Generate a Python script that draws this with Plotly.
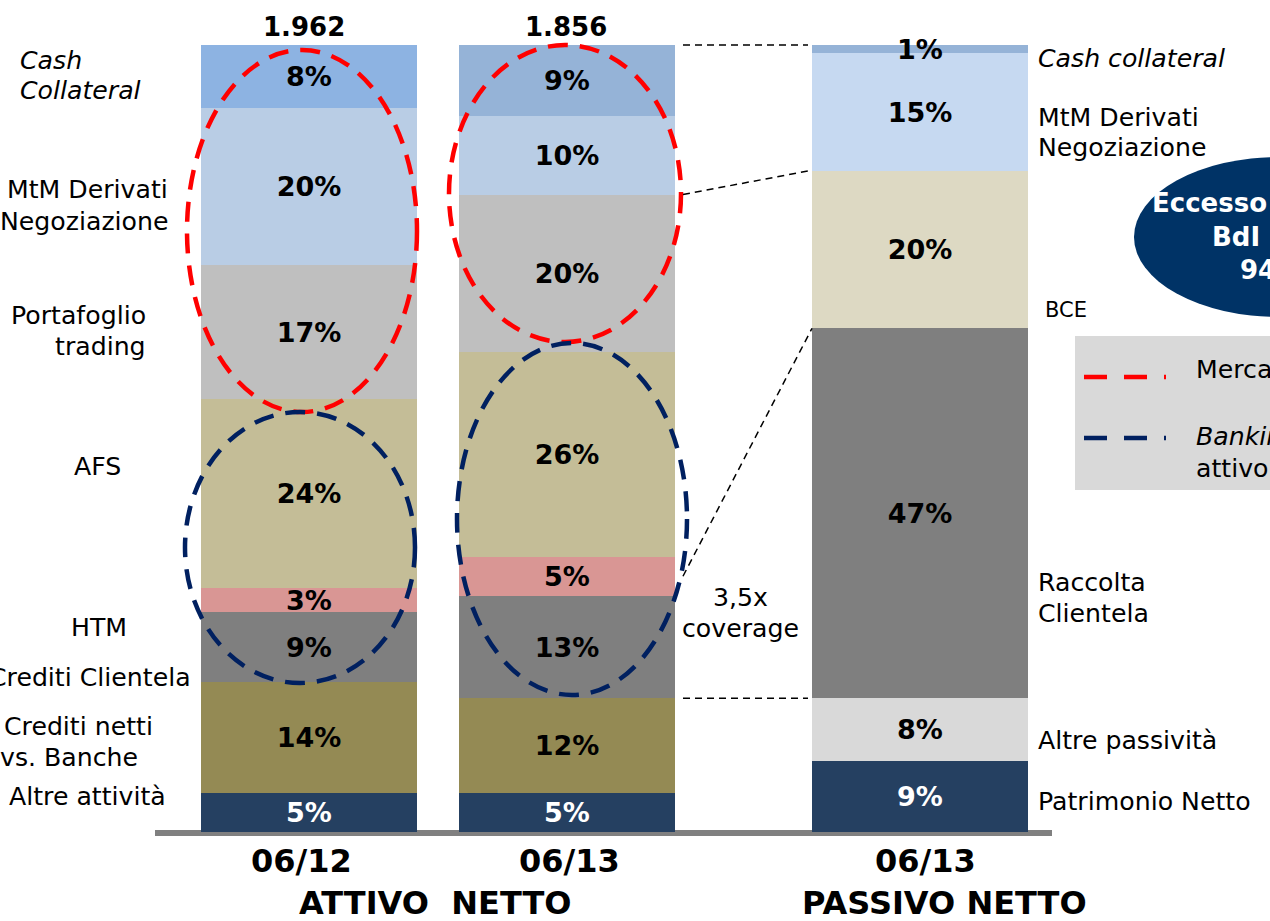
import plotly.graph_objects as go

# ---------------- DATA ----------------
periods = ["06/12", "06/13", "06/13"]
asset_totals = ["1.962", "1.856"]

# listed top-down as in the chart
asset_categories = ["Cash Collateral", "MtM Derivati Negoziazione", "Portafoglio trading", "AFS",
                    "HTM", "Crediti Clientela", "Crediti netti vs. Banche", "Altre attività"]
assets_0612 = [8, 20, 17, 24, 3, 9, 14, 5]
assets_0613 = [9, 10, 20, 26, 5, 13, 12, 5]

liab_categories = ["Cash collateral", "MtM Derivati Negoziazione", "BCE", "Raccolta Clientela",
                   "Altre passività", "Patrimonio Netto"]
liab_0613 = [1, 15, 20, 47, 8, 9]

# ---------------- STYLE ----------------
asset_colors = [["#8DB3E2", "#95B3D7"], "#B9CDE5", "#BFBFBF", "#C4BD97", "#D99694",
                "#7F7F7F", "#948A54", "#254061"]
liab_colors = ["#95B3D7", "#C6D9F1", "#DDD9C3", "#7F7F7F", "#D9D9D9", "#254061"]
dark_fill = "#254061"

W, H = 1270, 921
FONT = "DejaVu Sans"
PX_PER_PCT = 7.87


def xp(px):
    return (px - 309) / 258.0


def yp(py):
    return (832 - py) / PX_PER_PCT


BAR_X = [xp(309), xp(567), xp(920)]
BAR_W = 216 / 258.0
LABEL_DROP = 3 / PX_PER_PCT  # labels sit a touch below segment centre

fig = go.Figure()

# asset bars (stack bottom-up)
n = len(asset_categories)
for i in reversed(range(n)):
    col = asset_colors[i]
    fig.add_trace(go.Bar(
        x=BAR_X[:2], y=[assets_0612[i], assets_0613[i]], width=BAR_W,
        name=asset_categories[i], marker=dict(color=col, line=dict(width=0)),
        textposition="none", showlegend=False, hoverinfo="skip"))

for i in reversed(range(len(liab_categories))):
    fig.add_trace(go.Bar(
        x=[BAR_X[2]], y=[liab_0613[i]], width=BAR_W,
        name=liab_categories[i], marker=dict(color=liab_colors[i], line=dict(width=0)),
        textposition="none", showlegend=False, hoverinfo="skip"))

# segment labels at midpoints
lx, ly, lt, lc = [], [], [], []


def add_labels(xpos, values, colors):
    base = 0
    for v, c in zip(reversed(values), reversed(colors)):
        lx.append(xpos)
        ly.append(base + v / 2.0 - LABEL_DROP)
        lt.append(f"{v}%")
        lc.append("white" if c == dark_fill else "black")
        base += v


add_labels(BAR_X[0], assets_0612, [c if isinstance(c, str) else c[0] for c in asset_colors])
add_labels(BAR_X[1], assets_0613, [c if isinstance(c, str) else c[1] for c in asset_colors])
add_labels(BAR_X[2], liab_0613, liab_colors)

fig.add_trace(go.Scatter(
    x=lx, y=ly, mode="text", text=lt, showlegend=False, hoverinfo="skip",
    textfont=dict(family=FONT, size=27, color=lc, weight="bold")))

shapes = []
annotations = []

# baseline
shapes.append(dict(type="line", xref="x", yref="y", x0=xp(155), x1=xp(1052), y0=yp(833), y1=yp(833),
                   line=dict(color="#808080", width=6), layer="below"))


def ellipse(l, r, t, b, color):
    shapes.append(dict(type="circle", xref="x", yref="y", x0=xp(l), x1=xp(r), y0=yp(b), y1=yp(t),
                       line=dict(color=color, width=4.5, dash="20px,12px")))


ellipse(187, 417, 50, 412, "#FF0000")
ellipse(449, 681, 45, 342, "#FF0000")
ellipse(185, 415, 412, 683, "#002060")
ellipse(457, 687, 343, 695, "#002060")


# connector lines, derived from the stacked values
def cum_from_top(values, k):
    return 100 - sum(values[:k])


conn = [
    (cum_from_top(assets_0613, 0), cum_from_top(liab_0613, 0), 808),
    (cum_from_top(assets_0613, 2), cum_from_top(liab_0613, 2), 808),
    (cum_from_top(assets_0613, 4) - assets_0613[4] / 2.0, cum_from_top(liab_0613, 3), 812),
    (cum_from_top(assets_0613, 6), cum_from_top(liab_0613, 4), 808),
]
for ya, yb, xr in conn:
    shapes.append(dict(type="line", xref="x", yref="y", x0=xp(683), x1=xp(xr), y0=ya, y1=yb,
                       line=dict(color="black", width=1.5, dash="7px,5px")))

# "Eccesso" ellipse
shapes.append(dict(type="circle", xref="x", yref="y", x0=xp(1134), x1=xp(1425), y0=yp(317), y1=yp(157),
                   fillcolor="#003366", line=dict(width=0)))

# legend box
shapes.append(dict(type="rect", xref="x", yref="y", x0=xp(1075), x1=xp(1300), y0=yp(490), y1=yp(336),
                   fillcolor="#D9D9D9", line=dict(width=0), layer="below"))
shapes.append(dict(type="line", xref="x", yref="y", x0=xp(1084), x1=xp(1166), y0=yp(377), y1=yp(377),
                   line=dict(color="#FF0000", width=4.5, dash="23px,17px")))
shapes.append(dict(type="line", xref="x", yref="y", x0=xp(1084), x1=xp(1166), y0=yp(438), y1=yp(438),
                   line=dict(color="#002060", width=4.5, dash="23px,17px")))


def txt(s, px, py, anchor="center", size=25.2, bold=False, italic=False, color="black"):
    annotations.append(dict(
        x=px / W, y=1 - py / H, xref="paper", yref="paper", text=s, xanchor=anchor, yanchor="middle",
        showarrow=False, align=anchor if anchor != "center" else "center",
        font=dict(family=FONT, size=size, color=color,
                  weight="bold" if bold else "normal",
                  style="italic" if italic else "normal")))


# totals above asset bars
for t, px in zip(asset_totals, [304, 566]):
    txt(t, px, 27, bold=True, size=26)

# period labels
for p, px in zip(periods, [301, 569, 925]):
    txt(p, px, 861, bold=True, size=32)
txt("ATTIVO&nbsp;&nbsp;NETTO", 435, 903, bold=True, size=32)
txt("PASSIVO NETTO", 944, 903, bold=True, size=32)

# left labels
txt("Cash", 18, 60, anchor="left", italic=True)
txt("Collateral", 18, 90, anchor="left", italic=True)
txt("MtM Derivati", 170, 190, anchor="right")
txt("Negoziazione", 170, 221, anchor="right")
txt("Portafoglio", 148, 316, anchor="right")
txt("trading", 148, 347, anchor="right")
txt("AFS", 97, 466)
txt("HTM", 99, 627)
txt("Crediti Clientela", 193, 677, anchor="right")
txt("Crediti netti", 2, 726, anchor="left")
txt("vs. Banche", -2, 757, anchor="left")
txt("Altre attività", 168, 796, anchor="right")

# right labels
txt("Cash collateral", 1036, 58, anchor="left", italic=True)
txt("MtM Derivati", 1036, 117, anchor="left")
txt("Negoziazione", 1036, 148, anchor="left")
txt("BCE", 1043, 310, anchor="left", size=21)
txt("Raccolta", 1036, 582, anchor="left")
txt("Clientela", 1036, 613, anchor="left")
txt("Altre passività", 1036, 740, anchor="left")
txt("Patrimonio Netto", 1036, 801, anchor="left")

txt("3,5x", 740, 597)
txt("coverage", 740, 628)

# legend text
txt("Mercato", 1194, 370, anchor="left")
txt("Banking", 1194, 436, anchor="left", italic=True)
txt("attivo", 1194, 468, anchor="left")

# ellipse text
txt("Eccesso", 1150, 203, anchor="left", bold=True, size=26, color="white")
txt("BdI", 1210, 237, anchor="left", bold=True, size=26, color="white")
txt("94", 1238, 270, anchor="left", bold=True, size=26, color="white")

fig.update_layout(
    width=W, height=H, margin=dict(l=0, r=0, t=0, b=0),
    paper_bgcolor="white", plot_bgcolor="white",
    barmode="stack", bargap=0, hovermode=False,
    xaxis=dict(range=[xp(0), xp(W)], visible=False, fixedrange=True),
    yaxis=dict(range=[yp(H), yp(0)], visible=False, fixedrange=True),
    shapes=shapes, annotations=annotations, showlegend=False,
)

fig.write_html(
    "out.html",
    config={"displayModeBar": False},
    post_script="document.body.style.margin='0';document.body.style.overflow='hidden';",
)
